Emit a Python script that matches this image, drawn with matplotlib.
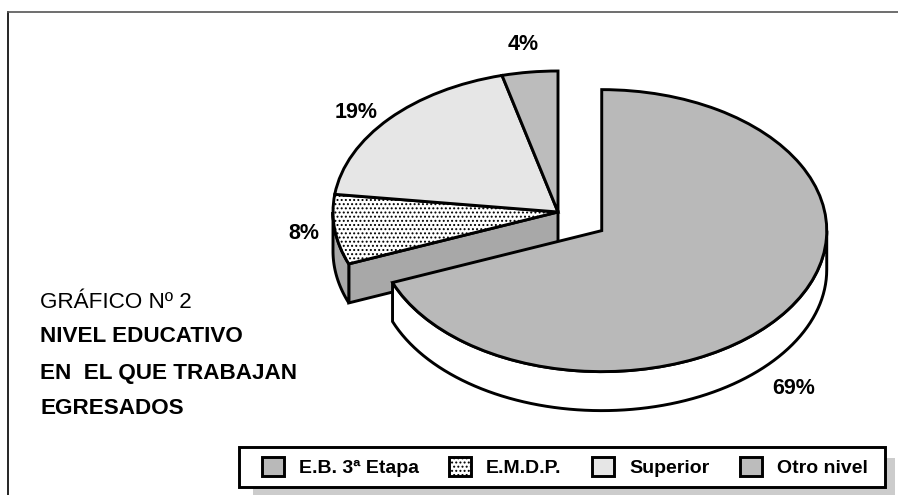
import matplotlib
matplotlib.use("Agg")
import matplotlib.pyplot as plt
from matplotlib.patches import Polygon, Rectangle
import numpy as np

W = 898
H = 495

labels = ['E.B. 3ª Etapa', 'E.M.D.P.', 'Superior', 'Otro nivel']
values = [69, 8, 19, 4]
colors = ['#b9b9b9', 'white', '#e6e6e6', '#bcbcbc']
title_lines = ['GRÁFICO Nº 2', 'NIVEL EDUCATIVO', 'EN  EL QUE TRABAJAN', 'EGRESADOS']

# pie geometry in pixels of the image
cx, cy = 558, 212
rx, ry = 225, 141
depth = 39 / ry
lw = 2.1

plt.rcParams['font.family'] = ['Liberation Sans', 'DejaVu Sans']
plt.rcParams['hatch.linewidth'] = 0.9

fig = plt.figure(figsize=(W / 100, H / 100), dpi=100)
ax = fig.add_axes([0, 0, 1, 1])

wedges, _ = ax.pie(values, explode=[0.235, 0, 0, 0], colors=colors, startangle=90,
                   counterclock=False, radius=1, center=(0, 0),
                   wedgeprops={'edgecolor': 'black', 'linewidth': lw, 'joinstyle': 'miter'})
# pie forces equal aspect, the slices here are flattened
ax.set_aspect('auto')
ax.set_xlim(-cx / rx, (W - cx) / rx)
ax.set_ylim((cy - H) / ry, cy / ry)
ax.axis('off')
wedges[1].set_hatch('....')


def arc(wedge, a0, a1):
    t = np.radians(np.linspace(a0, a1, 80))
    x0, y0 = wedge.center
    return np.column_stack([x0 + np.cos(t), y0 + np.sin(t)])


def side_wall(wedge, a0, a1, face, z):
    """ Outer wall of a slice between two angles."""
    top = arc(wedge, a0, a1)
    low = top[::-1] - [0, depth]
    ax.add_patch(Polygon(np.vstack([top, low]), closed=True, facecolor=face,
                         edgecolor='black', linewidth=lw, joinstyle='miter', zorder=z))


# walls of the group of small slices
big, small = wedges[0], wedges[1]
edge = np.radians(big.theta1)
apex = np.array(small.center)
outer = apex + [np.cos(edge), np.sin(edge)]
ax.add_patch(Polygon([apex, outer, outer - [0, depth], apex - [0, depth]], closed=True,
                     facecolor='#a8a8a8', edgecolor='black', linewidth=lw,
                     joinstyle='miter', zorder=2))
side_wall(small, 180, big.theta1 + 360, '#a8a8a8', 2)
for w in wedges[1:]:
    w.set_zorder(3)

# wall of the big slice, under its top face
side_wall(big, big.theta1, 0, 'white', 4)
big.set_zorder(5)

# frame of the page
ax.plot([(8 - cx) / rx] * 2, [(cy - H) / ry, (cy - 12) / ry], color='black', lw=1.2, zorder=1)
ax.plot([(8 - cx) / rx, (W - cx) / rx], [(cy - 12) / ry] * 2, color='#555555', lw=1.2, zorder=1)

# percent labels
pct_pos = [(794, 388), (304, 234), (356, 113), (523, 45)]
for v, (px, py) in zip(values, pct_pos):
    fig.text(px / W, 1 - py / H, '%d%%' % v, fontsize=15.5, fontweight='bold',
             ha='center', va='center', zorder=10)

# title block
title_y = [303, 337, 373, 408]
for i, (t, py) in enumerate(zip(title_lines, title_y)):
    fig.text(40 / W, 1 - py / H, t, fontsize=16.2, fontweight='normal' if i == 0 else 'bold',
             ha='left', va='center')

# legend box with its grey shadow, the legend itself has no frame
fig.add_artist(Rectangle((253 / W, 0), 642 / W, (H - 458) / H, transform=fig.transFigure,
                         facecolor='#cccccc', edgecolor='none', zorder=6))
fig.add_artist(Rectangle((239 / W, 1 - 487 / H), 646 / W, 40 / H, transform=fig.transFigure,
                         facecolor='white', edgecolor='black', linewidth=lw, zorder=6.5))
leg = fig.legend(wedges, labels, loc='center left', bbox_to_anchor=(262 / W, 1 - 467 / H),
                 ncol=4, borderaxespad=0, frameon=False, borderpad=0,
                 prop={'size': 14, 'weight': 'bold'},
                 handlelength=1.13, handleheight=1.08, handletextpad=0.76, columnspacing=1.58)
leg.set_zorder(7)

plt.savefig('out.png', dpi=100)
plt.close()
